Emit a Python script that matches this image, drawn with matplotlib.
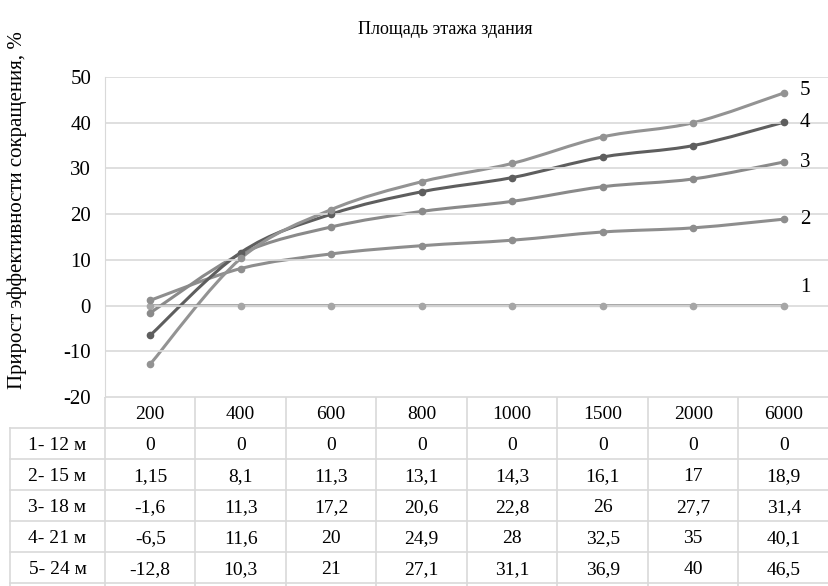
import numpy as np
import matplotlib
matplotlib.use("Agg")
import matplotlib.pyplot as plt
from matplotlib.path import Path
from matplotlib.patches import PathPatch

plt.rcParams['font.family'] = ['Liberation Serif', 'DejaVu Serif']
plt.rcParams['axes.unicode_minus'] = False

# data
areas = ['200', '400', '600', '800', '1000', '1500', '2000', '6000']
row_names = ['1- 12 м', '2- 15 м', '3- 18 м', '4- 21 м', '5- 24 м']
s1 = [0, 0, 0, 0, 0, 0, 0, 0]
s2 = [1.15, 8.1, 11.3, 13.1, 14.3, 16.1, 17, 18.9]
s3 = [-1.6, 11.3, 17.2, 20.6, 22.8, 26, 27.7, 31.4]
s4 = [-6.5, 11.6, 20, 24.9, 28, 32.5, 35, 40.1]
s5 = [-12.8, 10.3, 21, 27.1, 31.1, 36.9, 40, 46.5]
table_rows = [
    ['0', '0', '0', '0', '0', '0', '0', '0'],
    ['1,15', '8,1', '11,3', '13,1', '14,3', '16,1', '17', '18,9'],
    ['-1,6', '11,3', '17,2', '20,6', '22,8', '26', '27,7', '31,4'],
    ['-6,5', '11,6', '20', '24,9', '28', '32,5', '35', '40,1'],
    ['-12,8', '10,3', '21', '27,1', '31,1', '36,9', '40', '46,5'],
]
series = [s1, s2, s3, s4, s5]
colors = ['#a6a6a6', '#8e8e8e', '#8a8a8a', '#5e5e5e', '#939393']
labels = ['1', '2', '3', '4', '5']
label_dy = [4.0, 0, 0, 0, 0.5]

W, H = 829, 586
fig = plt.figure(figsize=(W / 100, H / 100), dpi=100)

left, right, top, bottom = 105, 829, 77, 397
ax = fig.add_axes([left / W, 1 - bottom / H, (right - left) / W, (bottom - top) / H])
ncol = len(areas)
colw = (right - left) / ncol
ax.set_xlim(-0.5, ncol - 0.5)
ax.set_ylim(-20, 50)
ax.set_yticks(range(-20, 51, 10))
ax.set_xticks([])
ax.tick_params(axis='y', length=0, labelsize=15, pad=10)
ax.grid(axis='y', color='#d9d9d9', lw=1.2)
for sp in ['top', 'right', 'bottom']:
    ax.spines[sp].set_visible(False)
ax.spines['left'].set_color('#d9d9d9')


def smooth_path(x, y):
    pts = np.column_stack([x, y])
    verts = [pts[0]]
    codes = [Path.MOVETO]
    n = len(pts)
    for i in range(n - 1):
        p0 = pts[i - 1] if i > 0 else pts[i]
        p1 = pts[i]
        p2 = pts[i + 1]
        p3 = pts[i + 2] if i + 2 < n else pts[i + 1]
        c1 = p1 + (p2 - p0) / 6
        c2 = p2 - (p3 - p1) / 6
        verts += [c1, c2, p2]
        codes += [Path.CURVE4] * 3
    return Path(verts, codes)


xs = np.arange(ncol)
for s, c, lab, dy in zip(series, colors, labels, label_dy):
    ax.add_patch(PathPatch(smooth_path(xs, s), fill=False, edgecolor=c, lw=2.2))
    ax.plot(xs, s, 'o', color=c, ms=4.5, clip_on=False)
    ax.text(xs[-1] + 0.18, s[-1] + dy, lab, fontsize=15, va='center', ha='left')

fig.text(445 / W, 1 - 29 / H, 'Площадь этажа здания', fontsize=13, ha='center', va='center')
fig.text(17 / W, 1 - 210 / H, 'Прирост эффективности сокращения, %', rotation=90,
         fontsize=15, ha='center', va='center')

# table drawn underneath the plot
tab = fig.add_axes([0, 0, 1, 1 - bottom / H])
tab.set_xlim(0, W)
tab.set_ylim(H, bottom)
tab.axis('off')
rowh = 31
lc = '#d9d9d9'
tab_left = 10
fs = 14
for j, a in enumerate(areas):
    tab.text(left + colw * (j + 0.5), bottom + rowh / 2, a, ha='center',
             va='center_baseline', fontsize=fs)
for i, (rn, vals) in enumerate(zip(row_names, table_rows)):
    yc = bottom + rowh * (i + 1.5)
    tab.text((tab_left + left) / 2, yc, rn, ha='center', va='center_baseline', fontsize=fs)
    for j, v in enumerate(vals):
        tab.text(left + colw * (j + 0.5), yc, v, ha='center', va='center_baseline', fontsize=fs)
for i in range(1, len(row_names) + 2):
    y = bottom + rowh * i
    tab.plot([tab_left, W], [y, y], color=lc, lw=1.2)
tab.plot([left, W], [bottom, bottom], color=lc, lw=1.2)
tab.plot([tab_left, tab_left], [bottom + rowh, H], color=lc, lw=1.2)
for j in range(ncol + 1):
    x = left + colw * j
    tab.plot([x, x], [bottom, H], color=lc, lw=1.2)

fig.savefig('out.png', dpi=100)
